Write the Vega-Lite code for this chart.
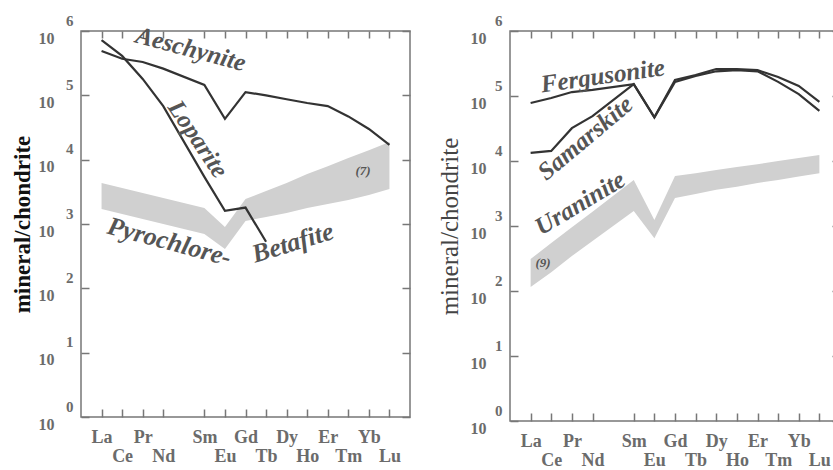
{
  "$schema": "https://vega.github.io/schema/vega-lite/v6.json",
  "padding": {"left": 10, "top": 12, "right": 0, "bottom": 0},
  "background": "white",
  "spacing": 24,
  "config": {"view": {"stroke": "#777", "strokeWidth": 1.5}, "font": "Liberation Serif"},
  "hconcat": [
    {
      "width": 329,
      "height": 386,
      "layer": [
        {
          "data": {"values": [
            {"el": "La", "i": 1, "lo": 1710, "hi": 4340},
            {"el": "Ce", "i": 2, "lo": 1430, "hi": 3630},
            {"el": "Pr", "i": 3, "lo": 1200, "hi": 3030},
            {"el": "Nd", "i": 4, "lo": 1000, "hi": 2530},
            {"el": "Sm", "i": 6, "lo": 700, "hi": 1780},
            {"el": "Eu", "i": 7, "lo": 410, "hi": 900},
            {"el": "Gd", "i": 8, "lo": 1110, "hi": 2450},
            {"el": "Tb", "i": 9, "lo": 1290, "hi": 3250},
            {"el": "Dy", "i": 10, "lo": 1480, "hi": 4340},
            {"el": "Ho", "i": 11, "lo": 1780, "hi": 6000},
            {"el": "Er", "i": 12, "lo": 2050, "hi": 7930},
            {"el": "Tm", "i": 13, "lo": 2360, "hi": 10600},
            {"el": "Yb", "i": 14, "lo": 2820, "hi": 14000},
            {"el": "Lu", "i": 15, "lo": 3500, "hi": 18800}
          ]},
          "mark": {"type": "area", "color": "#d0d0d0"},
          "encoding": {
            "x": {"field": "i", "type": "quantitative", "scale": {"domain": [0, 16], "nice": false, "zero": false},
              "axis": {"orient": "bottom", "title": null, "grid": false, "domain": false, "offset": -8, "values": [1,2,3,4,6,7,8,9,10,11,12,13,14,15],
                "tickSize": 8, "tickColor": "#777", "tickWidth": 1.5,
                "labelFont": "Liberation Serif", "labelFontWeight": "bold", "labelFontSize": 18, "labelColor": "#6b6b6b",
                "labelPadding": 11, "labelLineHeight": 19, "labelBaseline": "top", "labelAlign": "center", "labelFlush": false, "labelOverlap": false,
                "labelExpr": "indexof([2,4,7,9,11,13,15], datum.value) >= 0 ? ['\u00a0', ['','La','Ce','Pr','Nd','Pm','Sm','Eu','Gd','Tb','Dy','Ho','Er','Tm','Yb','Lu'][datum.value]] : ['','La','Ce','Pr','Nd','Pm','Sm','Eu','Gd','Tb','Dy','Ho','Er','Tm','Yb','Lu'][datum.value]"}},
            "y": {"field": "hi", "type": "quantitative", "scale": {"type": "log", "domain": [1, 1000000], "nice": false},
              "axis": {"orient": "left", "title": "mineral/chondrite", "titleFont": "Liberation Serif", "titleFontSize": 23, "titleFontWeight": "bold", "titleColor": "#111", "titlePadding": 4,
                "grid": false, "domain": false, "offset": -8, "values": [1,10,100,1000,10000,100000,1000000],
                "tickSize": 8, "tickColor": "#777", "tickWidth": 1.5,
                "labelFont": "Liberation Serif", "labelFontWeight": "bold", "labelFontSize": 16, "labelColor": "#6b6b6b",
                "labelPadding": 27, "labelOffset": 7, "labelAlign": "right", "labelBaseline": "middle", "labelFlush": false, "labelOverlap": false,
                "labelExpr": "'10'"}},
            "y2": {"field": "lo"}
          }
        },
        {
          "data": {"values": [
            {"mineral": "Aeschynite", "i": 1, "v": 490000},
            {"mineral": "Aeschynite", "i": 2, "v": 370000},
            {"mineral": "Aeschynite", "i": 3, "v": 330000},
            {"mineral": "Aeschynite", "i": 4, "v": 260000},
            {"mineral": "Aeschynite", "i": 6, "v": 145000},
            {"mineral": "Aeschynite", "i": 7, "v": 43000},
            {"mineral": "Aeschynite", "i": 8, "v": 112000},
            {"mineral": "Aeschynite", "i": 9, "v": 100000},
            {"mineral": "Aeschynite", "i": 10, "v": 87000},
            {"mineral": "Aeschynite", "i": 11, "v": 76000},
            {"mineral": "Aeschynite", "i": 12, "v": 68000},
            {"mineral": "Aeschynite", "i": 13, "v": 47000},
            {"mineral": "Aeschynite", "i": 14, "v": 30000},
            {"mineral": "Aeschynite", "i": 15, "v": 17000},
            {"mineral": "Loparite", "i": 1, "v": 720000},
            {"mineral": "Loparite", "i": 2, "v": 410000},
            {"mineral": "Loparite", "i": 3, "v": 180000},
            {"mineral": "Loparite", "i": 4, "v": 68000},
            {"mineral": "Loparite", "i": 6, "v": 5400},
            {"mineral": "Loparite", "i": 7, "v": 1600},
            {"mineral": "Loparite", "i": 8, "v": 1800},
            {"mineral": "Loparite", "i": 9, "v": 530}
          ]},
          "mark": {"type": "line", "color": "#333", "strokeWidth": 2.2},
          "encoding": {
            "x": {"field": "i", "type": "quantitative", "scale": {"domain": [0, 16], "nice": false, "zero": false},
              "axis": {"orient": "top", "title": null, "labels": false, "grid": false, "domain": false, "offset": -7, "values": [1,2,3,4,6,7,8,9,10,11,12,13,14,15],
                "tickSize": 7, "tickColor": "#777", "tickWidth": 1.5}},
            "y": {"field": "v", "type": "quantitative", "scale": {"type": "log", "domain": [1, 1000000], "nice": false},
              "axis": {"orient": "right", "title": null, "labels": false, "grid": false, "domain": false, "offset": -8, "values": [1,10,100,1000,10000,100000,1000000],
                "tickSize": 8, "tickColor": "#777", "tickWidth": 1.5}},
            "detail": {"field": "mineral"}
          }
        },
        {
          "data": {"values": [{"label": "(7)", "i": 13.72, "v": 6600}]},
          "mark": {"type": "text", "font": "Liberation Serif", "fontStyle": "italic", "fontWeight": "bold", "fontSize": 13, "color": "#555", "align": "center", "baseline": "middle"},
          "encoding": {
            "x": {"field": "i", "type": "quantitative", "scale": {"domain": [0, 16], "nice": false, "zero": false}, "axis": null},
            "y": {"field": "v", "type": "quantitative", "scale": {"type": "log", "domain": [1, 1000000], "nice": false},
              "axis": {"orient": "left", "title": null, "grid": false, "domain": false, "ticks": false, "values": [1,10,100,1000,10000,100000,1000000],
                "labelFont": "Liberation Serif", "labelFontWeight": "bold", "labelFontSize": 15, "labelColor": "#6b6b6b",
                "labelPadding": 8, "labelOffset": -11, "labelAlign": "right", "labelBaseline": "middle", "labelFlush": false, "labelOverlap": false,
                "labelExpr": "'' + round(log(datum.value)/LN10)"}},
            "text": {"field": "label"}
          }
        },
        {
          "data": {"values": [{"label": "Aeschynite", "i": 5.35, "v": 525000}]},
          "mark": {"type": "text", "angle": 15, "font": "Liberation Serif", "fontStyle": "italic", "fontWeight": "bold", "fontSize": 25, "color": "#555", "align": "center", "baseline": "middle"},
          "encoding": {
            "x": {"field": "i", "type": "quantitative", "scale": {"domain": [0, 16], "nice": false, "zero": false}, "axis": null},
            "y": {"field": "v", "type": "quantitative", "scale": {"type": "log", "domain": [1, 1000000], "nice": false}, "axis": null},
            "text": {"field": "label"}
          }
        },
        {
          "data": {"values": [{"label": "Loparite", "i": 5.69, "v": 21000}]},
          "mark": {"type": "text", "angle": 56, "font": "Liberation Serif", "fontStyle": "italic", "fontWeight": "bold", "fontSize": 25, "color": "#555", "align": "center", "baseline": "middle"},
          "encoding": {
            "x": {"field": "i", "type": "quantitative", "scale": {"domain": [0, 16], "nice": false, "zero": false}, "axis": null},
            "y": {"field": "v", "type": "quantitative", "scale": {"type": "log", "domain": [1, 1000000], "nice": false}, "axis": null},
            "text": {"field": "label"}
          }
        },
        {
          "data": {"values": [{"label": "Pyrochlore-", "i": 4.3, "v": 525}]},
          "mark": {"type": "text", "angle": 15, "font": "Liberation Serif", "fontStyle": "italic", "fontWeight": "bold", "fontSize": 26, "color": "#555", "align": "center", "baseline": "middle"},
          "encoding": {
            "x": {"field": "i", "type": "quantitative", "scale": {"domain": [0, 16], "nice": false, "zero": false}, "axis": null},
            "y": {"field": "v", "type": "quantitative", "scale": {"type": "log", "domain": [1, 1000000], "nice": false}, "axis": null},
            "text": {"field": "label"}
          }
        },
        {
          "data": {"values": [{"label": "Betafite", "i": 10.3, "v": 507}]},
          "mark": {"type": "text", "angle": -17, "font": "Liberation Serif", "fontStyle": "italic", "fontWeight": "bold", "fontSize": 26, "color": "#555", "align": "center", "baseline": "middle"},
          "encoding": {
            "x": {"field": "i", "type": "quantitative", "scale": {"domain": [0, 16], "nice": false, "zero": false}, "axis": null},
            "y": {"field": "v", "type": "quantitative", "scale": {"type": "log", "domain": [1, 1000000], "nice": false}, "axis": null},
            "text": {"field": "label"}
          }
        }
      ],
      "resolve": {"axis": {"x": "independent", "y": "independent"}}
    },
    {
      "width": 330,
      "height": 390,
      "layer": [
        {
          "data": {"values": [
            {"el": "La", "i": 1, "lo": 115, "hi": 310},
            {"el": "Ce", "i": 2, "lo": 195, "hi": 550},
            {"el": "Pr", "i": 3, "lo": 345, "hi": 960},
            {"el": "Nd", "i": 4, "lo": 590, "hi": 1650},
            {"el": "Sm", "i": 6, "lo": 1700, "hi": 5100},
            {"el": "Eu", "i": 7, "lo": 650, "hi": 1240},
            {"el": "Gd", "i": 8, "lo": 2700, "hi": 5900},
            {"el": "Tb", "i": 9, "lo": 3100, "hi": 6500},
            {"el": "Dy", "i": 10, "lo": 3600, "hi": 7300},
            {"el": "Ho", "i": 11, "lo": 4000, "hi": 8100},
            {"el": "Er", "i": 12, "lo": 4600, "hi": 8900},
            {"el": "Tm", "i": 13, "lo": 5100, "hi": 10000},
            {"el": "Yb", "i": 14, "lo": 5800, "hi": 11100},
            {"el": "Lu", "i": 15, "lo": 6500, "hi": 12400}
          ]},
          "mark": {"type": "area", "color": "#d0d0d0"},
          "encoding": {
            "x": {"field": "i", "type": "quantitative", "scale": {"domain": [0, 16], "nice": false, "zero": false},
              "axis": {"orient": "bottom", "title": null, "grid": false, "domain": false, "offset": -8, "values": [1,2,3,4,6,7,8,9,10,11,12,13,14,15],
                "tickSize": 8, "tickColor": "#777", "tickWidth": 1.5,
                "labelFont": "Liberation Serif", "labelFontWeight": "bold", "labelFontSize": 18, "labelColor": "#6b6b6b",
                "labelPadding": 11, "labelLineHeight": 19, "labelBaseline": "top", "labelAlign": "center", "labelFlush": false, "labelOverlap": false,
                "labelExpr": "indexof([2,4,7,9,11,13,15], datum.value) >= 0 ? ['\u00a0', ['','La','Ce','Pr','Nd','Pm','Sm','Eu','Gd','Tb','Dy','Ho','Er','Tm','Yb','Lu'][datum.value]] : ['','La','Ce','Pr','Nd','Pm','Sm','Eu','Gd','Tb','Dy','Ho','Er','Tm','Yb','Lu'][datum.value]"}},
            "y": {"field": "hi", "type": "quantitative", "scale": {"type": "log", "domain": [1, 1000000], "nice": false},
              "axis": {"orient": "left", "title": "mineral/chondrite", "titleFont": "Liberation Serif", "titleFontSize": 25, "titleFontWeight": "normal", "titleColor": "#444", "titlePadding": 8,
                "grid": false, "domain": false, "offset": -8, "values": [1,10,100,1000,10000,100000,1000000],
                "tickSize": 8, "tickColor": "#777", "tickWidth": 1.5,
                "labelFont": "Liberation Serif", "labelFontWeight": "bold", "labelFontSize": 16, "labelColor": "#6b6b6b",
                "labelPadding": 24, "labelOffset": 7, "labelAlign": "right", "labelBaseline": "middle", "labelFlush": false, "labelOverlap": false,
                "labelExpr": "'10'"}},
            "y2": {"field": "lo"}
          }
        },
        {
          "data": {"values": [
            {"mineral": "Fergusonite", "i": 1, "v": 78000},
            {"mineral": "Fergusonite", "i": 2, "v": 93000},
            {"mineral": "Fergusonite", "i": 3, "v": 115000},
            {"mineral": "Fergusonite", "i": 4, "v": 124000},
            {"mineral": "Fergusonite", "i": 6, "v": 152000},
            {"mineral": "Fergusonite", "i": 7, "v": 47000},
            {"mineral": "Fergusonite", "i": 8, "v": 177000},
            {"mineral": "Fergusonite", "i": 9, "v": 210000},
            {"mineral": "Fergusonite", "i": 10, "v": 260000},
            {"mineral": "Fergusonite", "i": 11, "v": 260000},
            {"mineral": "Fergusonite", "i": 12, "v": 250000},
            {"mineral": "Fergusonite", "i": 13, "v": 196000},
            {"mineral": "Fergusonite", "i": 14, "v": 143000},
            {"mineral": "Fergusonite", "i": 15, "v": 81000},
            {"mineral": "Samarskite", "i": 1, "v": 13300},
            {"mineral": "Samarskite", "i": 2, "v": 14300},
            {"mineral": "Samarskite", "i": 3, "v": 32000},
            {"mineral": "Samarskite", "i": 4, "v": 49000},
            {"mineral": "Samarskite", "i": 6, "v": 152000},
            {"mineral": "Samarskite", "i": 7, "v": 47000},
            {"mineral": "Samarskite", "i": 8, "v": 165000},
            {"mineral": "Samarskite", "i": 9, "v": 204000},
            {"mineral": "Samarskite", "i": 10, "v": 240000},
            {"mineral": "Samarskite", "i": 11, "v": 250000},
            {"mineral": "Samarskite", "i": 12, "v": 240000},
            {"mineral": "Samarskite", "i": 13, "v": 165000},
            {"mineral": "Samarskite", "i": 14, "v": 107000},
            {"mineral": "Samarskite", "i": 15, "v": 59000}
          ]},
          "mark": {"type": "line", "color": "#333", "strokeWidth": 2.2},
          "encoding": {
            "x": {"field": "i", "type": "quantitative", "scale": {"domain": [0, 16], "nice": false, "zero": false},
              "axis": {"orient": "top", "title": null, "labels": false, "grid": false, "domain": false, "offset": -7, "values": [1,2,3,4,6,7,8,9,10,11,12,13,14,15],
                "tickSize": 7, "tickColor": "#777", "tickWidth": 1.5}},
            "y": {"field": "v", "type": "quantitative", "scale": {"type": "log", "domain": [1, 1000000], "nice": false},
              "axis": {"orient": "right", "title": null, "labels": false, "grid": false, "domain": false, "offset": -8, "values": [1,10,100,1000,10000,100000,1000000],
                "tickSize": 8, "tickColor": "#777", "tickWidth": 1.5}},
            "detail": {"field": "mineral"}
          }
        },
        {
          "data": {"values": [{"label": "(9)", "i": 1.6, "v": 270}]},
          "mark": {"type": "text", "font": "Liberation Serif", "fontStyle": "italic", "fontWeight": "bold", "fontSize": 13, "color": "#555", "align": "center", "baseline": "middle"},
          "encoding": {
            "x": {"field": "i", "type": "quantitative", "scale": {"domain": [0, 16], "nice": false, "zero": false}, "axis": null},
            "y": {"field": "v", "type": "quantitative", "scale": {"type": "log", "domain": [1, 1000000], "nice": false},
              "axis": {"orient": "left", "title": null, "grid": false, "domain": false, "ticks": false, "values": [1,10,100,1000,10000,100000,1000000],
                "labelFont": "Liberation Serif", "labelFontWeight": "bold", "labelFontSize": 15, "labelColor": "#6b6b6b",
                "labelPadding": 8, "labelOffset": -11, "labelAlign": "right", "labelBaseline": "middle", "labelFlush": false, "labelOverlap": false,
                "labelExpr": "'' + round(log(datum.value)/LN10)"}},
            "text": {"field": "label"}
          }
        },
        {
          "data": {"values": [{"label": "Fergusonite", "i": 4.5, "v": 204000}]},
          "mark": {"type": "text", "angle": -8, "font": "Liberation Serif", "fontStyle": "italic", "fontWeight": "bold", "fontSize": 25, "color": "#555", "align": "center", "baseline": "middle"},
          "encoding": {
            "x": {"field": "i", "type": "quantitative", "scale": {"domain": [0, 16], "nice": false, "zero": false}, "axis": null},
            "y": {"field": "v", "type": "quantitative", "scale": {"type": "log", "domain": [1, 1000000], "nice": false}, "axis": null},
            "text": {"field": "label"}
          }
        },
        {
          "data": {"values": [{"label": "Samarskite", "i": 3.65, "v": 22500}]},
          "mark": {"type": "text", "angle": -40, "font": "Liberation Serif", "fontStyle": "italic", "fontWeight": "bold", "fontSize": 25, "color": "#555", "align": "center", "baseline": "middle"},
          "encoding": {
            "x": {"field": "i", "type": "quantitative", "scale": {"domain": [0, 16], "nice": false, "zero": false}, "axis": null},
            "y": {"field": "v", "type": "quantitative", "scale": {"type": "log", "domain": [1, 1000000], "nice": false}, "axis": null},
            "text": {"field": "label"}
          }
        },
        {
          "data": {"values": [{"label": "Uraninite", "i": 3.4, "v": 2250}]},
          "mark": {"type": "text", "angle": -31, "font": "Liberation Serif", "fontStyle": "italic", "fontWeight": "bold", "fontSize": 25, "color": "#555", "align": "center", "baseline": "middle"},
          "encoding": {
            "x": {"field": "i", "type": "quantitative", "scale": {"domain": [0, 16], "nice": false, "zero": false}, "axis": null},
            "y": {"field": "v", "type": "quantitative", "scale": {"type": "log", "domain": [1, 1000000], "nice": false}, "axis": null},
            "text": {"field": "label"}
          }
        }
      ],
      "resolve": {"axis": {"x": "independent", "y": "independent"}}
    }
  ]
}
